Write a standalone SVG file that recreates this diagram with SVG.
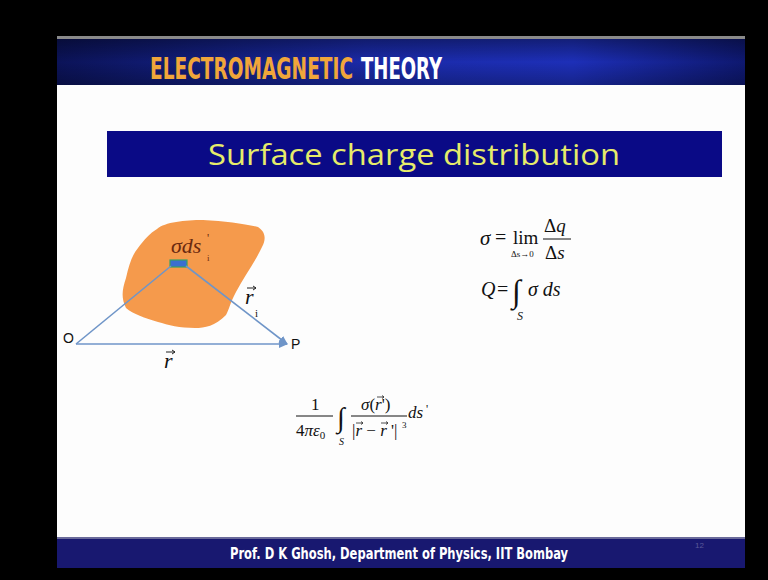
<svg xmlns="http://www.w3.org/2000/svg" width="768" height="580" viewBox="0 0 768 580">
<defs>
<linearGradient id="hdr" x1="0" y1="0" x2="1" y2="0">
<stop offset="0" stop-color="#0b1358"/>
<stop offset="0.45" stop-color="#1a2aa8"/>
<stop offset="0.75" stop-color="#1d2fb8"/>
<stop offset="1" stop-color="#0e1870"/>
</linearGradient>
<linearGradient id="hdrv" x1="0" y1="0" x2="0" y2="1">
<stop offset="0" stop-color="#000" stop-opacity="0.35"/>
<stop offset="0.5" stop-color="#000" stop-opacity="0"/>
<stop offset="1" stop-color="#000" stop-opacity="0.25"/>
</linearGradient>
<marker id="arr" markerWidth="10" markerHeight="10" refX="8" refY="5" orient="auto" markerUnits="userSpaceOnUse">
<path d="M0,1 L9,5 L0,9 Z" fill="#6f95c8"/>
</marker>
<style>
.math{font-family:"Liberation Serif","Times New Roman",serif;fill:#111}
.it{font-style:italic}
.vec{stroke:#6f95c8;stroke-width:1.6;fill:none}
.lbl{font-family:"Liberation Sans",Arial,sans-serif;fill:#111;font-size:14px}
.hd{font-family:"DejaVu Sans Condensed","DejaVu Sans",sans-serif;font-weight:bold}
</style>
</defs>
<rect x="0" y="0" width="768" height="580" fill="#000"/>
<rect x="57" y="85" width="688" height="453" fill="#fdfdfd"/>
<g id="header">
<rect x="57" y="36" width="688" height="3" fill="#8a8a8a"/>
<rect x="57" y="39" width="688" height="46" fill="url(#hdr)"/>
<rect x="57" y="39" width="688" height="46" fill="url(#hdrv)"/>
<text x="150" y="79" class="hd" font-size="30" fill="#f0a63a" textLength="203" lengthAdjust="spacingAndGlyphs">ELECTROMAGNETIC</text>
<text x="361" y="79" class="hd" font-size="30" fill="#ffffff" textLength="81" lengthAdjust="spacingAndGlyphs">THEORY</text>
</g>
<g id="title">
<rect x="107" y="131" width="615" height="46" fill="#0a0a86"/>
<text x="414" y="165" text-anchor="middle" font-family="'Open Sans','DejaVu Sans',sans-serif" font-size="29" fill="#e6ec6a" textLength="412" lengthAdjust="spacingAndGlyphs">Surface charge distribution</text>
</g>
<g id="blob">
<path d="M157,229 C165,222 185,220 203,220 C225,221 245,224 258,227 C266,232 266,240 262,247 C255,262 245,275 236,292 C230,303 229,310 226,315 C215,326 205,328 195,328 C180,328 168,325 158,322 C145,318 133,314 126,308 C121,298 122,290 126,278 C129,265 132,255 138,248 C144,240 150,233 157,229 Z" fill="#f59a4c"/>
<rect x="170" y="260" width="17" height="7" fill="#3a6fd0" stroke="#3aa060" stroke-width="1.2"/>
<text x="171" y="253" class="math it" font-size="22" style="fill:#6b2a10">σds</text>
<text x="207" y="242" class="math" font-size="12" style="fill:#6b2a10">'</text>
<text x="207" y="261" class="math" font-size="9" style="fill:#6b2a10">i</text>
</g>
<g id="connectors">
<line x1="76" y1="344" x2="171" y2="266" class="vec"/>
<line x1="186" y1="266" x2="287" y2="344" class="vec" marker-end="url(#arr)"/>
<line x1="76" y1="344" x2="287" y2="344" class="vec" marker-end="url(#arr)"/>
</g>
<g id="nodeO"><text x="63" y="343" class="lbl" font-size="15">O</text></g>
<g id="nodeP"><text x="291" y="349" class="lbl" font-size="15">P</text></g>
<g id="label-r">
<text x="164" y="368" class="math it" font-size="22">r</text>
<path d="M166,352 L175,352 M172,350 L175,352 L172,354" stroke="#222" stroke-width="1" fill="none"/>
</g>
<g id="label-ri">
<text x="245" y="304" class="math it" font-size="22">r</text>
<path d="M247,288 L256,288 M253,286 L256,288 L253,290" stroke="#222" stroke-width="1" fill="none"/>
<text x="255" y="317" class="math" font-size="11">i</text>
</g>
<g id="eq1">
<text x="480" y="245" class="math it" font-size="21">σ</text>
<text x="495" y="244" class="math" font-size="20">=</text>
<text x="513" y="244" class="math" font-size="19">lim</text>
<text x="511" y="257" class="math" font-size="9">Δs→0</text>
<text x="544" y="232" class="math" font-size="19">Δ<tspan class="it">q</tspan></text>
<line x1="543" y1="239" x2="571" y2="239" stroke="#111" stroke-width="1"/>
<text x="545" y="259" class="math" font-size="19">Δ<tspan class="it">s</tspan></text>
</g>
<g id="eq2">
<text x="481" y="296" class="math it" font-size="20">Q</text>
<text x="497" y="296" class="math" font-size="20">=</text>
<text x="512" y="302" class="math" font-size="32">∫</text>
<text x="517" y="320" class="math it" font-size="12">S</text>
<text x="528" y="296" class="math it" font-size="20">σ ds</text>
</g>
<g id="eq3">
<text x="311" y="410" class="math" font-size="17">1</text>
<line x1="296" y1="416" x2="333" y2="416" stroke="#111" stroke-width="1"/>
<text x="296" y="436" class="math" font-size="17">4<tspan class="it">πε</tspan><tspan font-size="11" dy="3">0</tspan></text>
<text x="337" y="427" class="math" font-size="28">∫</text>
<text x="339" y="445" class="math it" font-size="10">S</text>
<text x="361" y="410" class="math it" font-size="17">σ<tspan font-style="normal">(</tspan>r<tspan font-style="normal">')</tspan></text>
<path d="M377,397 L384,397 M382,395.5 L384,397 L382,398.5" stroke="#222" stroke-width="0.8" fill="none"/>
<line x1="351" y1="416" x2="407" y2="416" stroke="#111" stroke-width="1"/>
<text x="352" y="436" class="math" font-size="17">|<tspan class="it">r</tspan> − <tspan class="it">r</tspan> '|</text>
<path d="M356,423 L363,423 M361,421.5 L363,423 L361,424.5" stroke="#222" stroke-width="0.8" fill="none"/>
<path d="M381,423 L388,423 M386,421.5 L388,423 L386,424.5" stroke="#222" stroke-width="0.8" fill="none"/>
<text x="402" y="428" class="math" font-size="9">3</text>
<text x="408" y="418" class="math it" font-size="17">ds</text>
<text x="426" y="413" class="math" font-size="12">'</text>
</g>
<g id="footer">
<rect x="57" y="537" width="688" height="2" fill="#6a6a9a"/>
<rect x="57" y="539" width="688" height="29" fill="#181870"/>
<text x="399" y="559" text-anchor="middle" class="hd" font-size="15" fill="#ffffff" textLength="338" lengthAdjust="spacingAndGlyphs">Prof. D K Ghosh, Department of Physics, IIT Bombay</text>
<text x="695" y="548" font-family="'Liberation Sans',sans-serif" font-size="8" fill="#5a5a9a">12</text>
</g>
</svg>
